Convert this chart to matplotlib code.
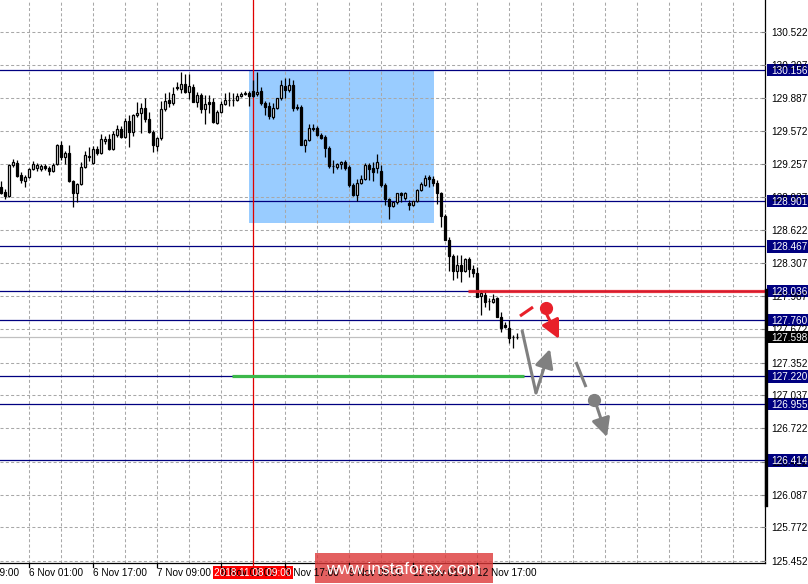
import matplotlib
matplotlib.use('Agg')
import matplotlib.pyplot as plt
from matplotlib.patches import Rectangle, FancyArrowPatch
from matplotlib.lines import Line2D
import matplotlib.transforms as mtransforms

plt.rcParams['font.family'] = ['Liberation Sans', 'DejaVu Sans']

# ---------------- data (H1 candles, index 0 = 5 Nov 18:00) ----------------
opens = [
    129.036, 128.988, 128.950, 129.247, 129.266, 129.151, 129.093, 129.132, 129.209, 129.218,
    129.209, 129.237, 129.218, 129.189, 129.257, 129.439, 129.324, 129.362, 129.093, 128.979,
    129.065, 129.228, 129.324, 129.266, 129.400, 129.362, 129.477, 129.496, 129.400, 129.535,
    129.592, 129.515, 129.669, 129.563, 129.726, 129.746, 129.794, 129.688, 129.563, 129.429,
    129.506, 129.784, 129.870, 129.841, 129.995, 129.976, 130.024, 129.947, 129.995, 129.851,
    129.918, 129.784, 129.851, 129.851, 129.650, 129.755, 129.832, 129.870, 129.870, 129.870,
    129.909, 129.928, 129.937, 129.957, 129.928, 129.957, 129.841, 129.813, 129.707, 129.794,
    129.889, 130.004, 129.966, 130.014, 129.803, 129.803, 129.439, 129.487, 129.602, 129.602,
    129.535, 129.515, 129.410, 129.237, 129.228, 129.257, 129.276, 129.228, 129.055, 128.959,
    129.074, 129.113, 129.247, 129.218, 129.218, 129.189, 129.055, 128.921, 128.854, 128.892,
    128.979, 128.931, 128.883, 128.863, 128.902, 129.007, 129.055, 129.132, 129.113, 129.074,
    128.979, 128.758, 128.528, 128.374, 128.231, 128.288, 128.231, 128.346, 128.250, 128.212,
    127.991, 128.001, 127.943, 127.933, 127.972, 127.790, 127.713, 127.684, 127.598, 127.598,
]
highs = [
    129.093, 129.017, 129.257, 129.305, 129.295, 129.180, 129.151, 129.218, 129.285, 129.266,
    129.257, 129.257, 129.237, 129.266, 129.448, 129.477, 129.381, 129.439, 129.103, 129.074,
    129.276, 129.381, 129.420, 129.429, 129.429, 129.544, 129.525, 129.544, 129.573, 129.630,
    129.621, 129.698, 129.726, 129.736, 129.851, 129.841, 129.889, 129.755, 129.583, 129.515,
    129.861, 129.937, 129.947, 129.995, 130.043, 130.139, 130.119, 130.119, 130.024, 129.947,
    129.937, 129.918, 129.918, 129.889, 129.774, 129.861, 129.937, 129.947, 129.937, 129.937,
    129.947, 129.957, 129.957, 130.062, 130.139, 129.995, 129.861, 129.851, 129.841, 129.889,
    130.062, 130.081, 130.081, 130.062, 129.832, 129.822, 129.496, 129.640, 129.640, 129.621,
    129.554, 129.535, 129.429, 129.295, 129.266, 129.285, 129.295, 129.247, 129.074, 129.113,
    129.151, 129.266, 129.266, 129.276, 129.352, 129.247, 129.074, 128.931, 128.892, 128.969,
    128.988, 128.988, 128.911, 128.902, 129.017, 129.084, 129.151, 129.151, 129.141, 129.103,
    128.988, 128.777, 128.557, 128.394, 128.384, 128.384, 128.355, 128.365, 128.288, 128.269,
    128.048, 128.048, 127.972, 128.010, 127.981, 127.838, 127.742, 127.761, 127.617, 127.636,
]
lows = [
    128.969, 128.921, 128.940, 129.228, 129.132, 129.074, 129.036, 129.122, 129.199, 129.189,
    129.189, 129.199, 129.151, 129.180, 129.247, 129.295, 129.257, 129.084, 128.844, 128.892,
    129.055, 129.218, 129.285, 129.257, 129.343, 129.352, 129.448, 129.391, 129.391, 129.515,
    129.506, 129.506, 129.420, 129.525, 129.707, 129.554, 129.659, 129.554, 129.372, 129.381,
    129.487, 129.765, 129.803, 129.822, 129.966, 129.937, 129.937, 129.880, 129.851, 129.803,
    129.746, 129.640, 129.746, 129.650, 129.640, 129.746, 129.822, 129.813, 129.813, 129.861,
    129.899, 129.918, 129.813, 129.899, 129.909, 129.822, 129.726, 129.688, 129.688, 129.784,
    129.870, 129.889, 129.947, 129.765, 129.774, 129.439, 129.372, 129.477, 129.573, 129.525,
    129.496, 129.324, 129.218, 129.170, 129.209, 129.209, 129.199, 129.036, 128.950, 128.902,
    129.065, 129.103, 129.103, 129.093, 129.170, 129.036, 128.863, 128.729, 128.844, 128.873,
    128.892, 128.911, 128.816, 128.854, 128.892, 128.998, 129.046, 129.036, 129.046, 128.873,
    128.652, 128.528, 128.231, 128.144, 128.164, 128.125, 128.221, 128.173, 128.173, 127.981,
    127.809, 127.885, 127.857, 127.924, 127.790, 127.646, 127.684, 127.540, 127.492, 127.579,
]
closes = [
    128.979, 128.950, 129.247, 129.276, 129.141, 129.103, 129.132, 129.209, 129.257, 129.247,
    129.237, 129.218, 129.189, 129.247, 129.439, 129.324, 129.362, 129.093, 128.979, 129.065,
    129.228, 129.343, 129.333, 129.400, 129.362, 129.496, 129.496, 129.400, 129.544, 129.592,
    129.515, 129.669, 129.563, 129.726, 129.746, 129.794, 129.688, 129.563, 129.439, 129.506,
    129.784, 129.861, 129.841, 129.928, 129.985, 130.024, 129.947, 130.004, 129.851, 129.918,
    129.784, 129.832, 129.832, 129.659, 129.755, 129.832, 129.870, 129.866, 129.870, 129.909,
    129.928, 129.937, 129.909, 129.909, 129.947, 129.841, 129.803, 129.717, 129.794, 129.889,
    130.014, 129.966, 130.014, 129.794, 129.794, 129.439, 129.487, 129.602, 129.592, 129.535,
    129.506, 129.410, 129.237, 129.233, 129.257, 129.276, 129.218, 129.055, 128.959, 129.074,
    129.113, 129.247, 129.209, 129.180, 129.276, 129.055, 128.921, 128.854, 128.892, 128.979,
    128.959, 128.979, 128.863, 128.902, 129.007, 129.065, 129.122, 129.113, 129.074, 128.979,
    128.758, 128.528, 128.374, 128.231, 128.288, 128.231, 128.346, 128.250, 128.212, 127.981,
    128.020, 127.933, 127.940, 127.962, 127.790, 127.684, 127.694, 127.588, 127.594, 127.598,
]

y_ticks = [130.522, 130.207, 129.887, 129.572, 129.257, 128.937, 128.622, 128.307,
           127.987, 127.672, 127.352, 127.037, 126.722, 126.402, 126.087, 125.772, 125.452]
level_lines = [130.156, 128.901, 128.467, 128.036, 127.760, 127.220, 126.955, 126.414]
last_price = 127.598

x_label_pos = [-9, 7, 23, 39, 55, 71, 87, 103, 119]
x_labels = ['5 Nov 09:00', '6 Nov 01:00', '6 Nov 17:00', '7 Nov 09:00', '8 Nov 01:00',
            '8 Nov 17:00', '9 Nov 09:00', '12 Nov 01:00', '12 Nov 17:00']
marker_bar = 63
marker_label = '2018.11.08 09:00'

box_x = [62, 108.25]
box_y = [128.691, 130.156]
red_level = 128.036
red_from = 116.75
green_level = 127.220
green_x = [57.75, 130.75]

red_dash_x = [129.75, 133.0]
red_dash_y = [127.799, 127.885]
red_dot = (136.25, 127.876)
red_arrow = [(136.5, 127.809), (139.5, 127.579)]
gray_path_x = [130.25, 133.75]
gray_path_y = [127.665, 127.061]
gray_arrow1 = [(133.75, 127.061), (137.25, 127.483)]
gray_dash_x = [143.75, 146.25]
gray_dash_y = [127.358, 127.118]
gray_dot = (148.25, 126.994)
gray_arrow2 = [(149.0, 126.927), (151.5, 126.639)]

# ---------------- figure ----------------
W, H = 808, 584
fig = plt.figure(figsize=(W / 100, H / 100), dpi=100)
ax = fig.add_axes([0, 21 / H, 765 / W, 563 / H])
ax.set_xlim(-0.25, 191.0)
ax.set_ylim(125.431, 130.829)
ax.set_xticks([])
ax.set_yticks([])
for s in ['left', 'top']:
    ax.spines[s].set_visible(False)
for s in ['right', 'bottom']:
    ax.spines[s].set_color('black')
    ax.spines[s].set_linewidth(0.9)

fx_dy = mtransforms.blended_transform_factory(fig.transFigure, ax.transData)
dx_fy = mtransforms.blended_transform_factory(ax.transData, fig.transFigure)

# blue zone
ax.add_patch(Rectangle((box_x[0], box_y[0]), box_x[1] - box_x[0], box_y[1] - box_y[0],
                       facecolor='#99ccff', edgecolor='none', zorder=0.5))

# grid
dash = (0, (2.9, 2.2))
for k in range(0, 24):
    ax.axvline(7 + 8 * k, color='#a8a8a8', lw=0.75, ls=dash, zorder=1)
for t in y_ticks:
    ax.axhline(t, color='#a8a8a8', lw=0.75, ls=dash, zorder=1)

# level lines
for lv in level_lines:
    ax.axhline(lv, color='#000080', lw=0.9, zorder=2)
ax.axhline(last_price, color='#c0c0c0', lw=0.9, zorder=1.5)

# marker vertical line
ax.axvline(marker_bar, color='#e00000', lw=0.9, zorder=2)
fig.add_artist(Line2D([marker_bar, marker_bar], [16 / H, 21 / H], transform=dx_fy,
                      color='#e00000', lw=0.9))

# candles
idx = list(range(len(opens)))
ax.vlines(idx, lows, highs, color='black', lw=0.9, zorder=3)
bot = [min(o, c) for o, c in zip(opens, closes)]
hgt = [abs(c - o) for o, c in zip(opens, closes)]
fcs = ['white' if c >= o else 'black' for o, c in zip(opens, closes)]
ax.bar(idx, hgt, bottom=bot, width=0.72, color=fcs, edgecolor='black',
       linewidth=0.9, zorder=4)

# thick lines
ax.plot([red_from, 191.0], [red_level, red_level], color='#e8202a', lw=2.3,
        alpha=0.9, zorder=5, solid_capstyle='butt')
ax.plot(green_x, [green_level, green_level], color='#3cb84a', lw=2.3,
        zorder=5, solid_capstyle='butt')

# annotations (arrows)
red_c = '#e8202a'
gray_c = '#808080'
ax.plot(red_dash_x, red_dash_y, color=red_c, lw=2.2, zorder=6, solid_capstyle='butt')
ax.plot([red_dot[0]], [red_dot[1]], 'o', color=red_c, ms=8.5, zorder=6)
ax.add_patch(FancyArrowPatch(red_arrow[0], red_arrow[1], arrowstyle='-|>',
                             mutation_scale=28, color=red_c, lw=2.2, zorder=6,
                             shrinkA=0, shrinkB=0))
ax.plot(gray_path_x, gray_path_y, color=gray_c, lw=2.2, zorder=6, solid_capstyle='butt')
ax.add_patch(FancyArrowPatch(gray_arrow1[0], gray_arrow1[1], arrowstyle='-|>',
                             mutation_scale=28, color=gray_c, lw=2.2, zorder=6,
                             shrinkA=0, shrinkB=0))
ax.plot(gray_dash_x, gray_dash_y, color=gray_c, lw=2.2, zorder=6, solid_capstyle='butt')
ax.plot([gray_dot[0]], [gray_dot[1]], 'o', color=gray_c, ms=8.5, zorder=6)
ax.add_patch(FancyArrowPatch(gray_arrow2[0], gray_arrow2[1], arrowstyle='-|>',
                             mutation_scale=28, color=gray_c, lw=2.2, zorder=6,
                             shrinkA=0, shrinkB=0))

# right price scale
fs = 7.2
for t in y_ticks:
    fig.add_artist(Line2D([762 / W, 765 / W], [t, t], transform=fx_dy, color='#808080', lw=0.8))
    fig.text(771 / W, t, f'{t:.3f}', transform=fx_dy, fontsize=fs, color='black',
             ha='left', va='center_baseline')
# thick scale marker
fig.add_artist(Line2D([765.5 / W, 765.5 / W], [128.048, 125.987], transform=fx_dy,
                      color='black', lw=2.4))
bh = 0.118
for lv in level_lines:
    fig.add_artist(Rectangle((767 / W, lv - bh / 2), 41 / W, bh, transform=fx_dy,
                             facecolor='#000080', edgecolor='none'))
    fig.text(771 / W, lv, f'{lv:.3f}', transform=fx_dy, fontsize=fs, color='white',
             ha='left', va='center_baseline')
fig.add_artist(Rectangle((767 / W, last_price - bh / 2), 41 / W, bh, transform=fx_dy,
                         facecolor='black', edgecolor='none'))
fig.text(771 / W, last_price, f'{last_price:.3f}', transform=fx_dy, fontsize=fs,
         color='white', ha='left', va='center_baseline')

# bottom time scale
for p, lab in zip(x_label_pos, x_labels):
    fig.add_artist(Line2D([p, p], [17 / H, 21 / H], transform=dx_fy, color='black', lw=0.9))
    fig.text(p, 12 / H, lab, transform=dx_fy, fontsize=fs, color='black',
             ha='left', va='center_baseline')
fig.add_artist(Rectangle((53.0, 5 / H), 20.0, 13 / H, transform=dx_fy,
                         facecolor='#ff0000', edgecolor='none'))
fig.text(marker_bar, 11.5 / H, marker_label, transform=dx_fy, fontsize=fs, color='white',
         ha='center', va='center_baseline')

# watermark
fig.add_artist(Rectangle((315 / W, 1 / H), 178 / W, 30 / H, transform=fig.transFigure,
                         facecolor='#dc3838', alpha=0.8, edgecolor='none'))
fig.text(403.5 / W, 16 / H, 'www.instaforex.com', fontsize=12.5, color='white',
         ha='center', va='center_baseline')

fig.savefig('out.png', dpi=100)
